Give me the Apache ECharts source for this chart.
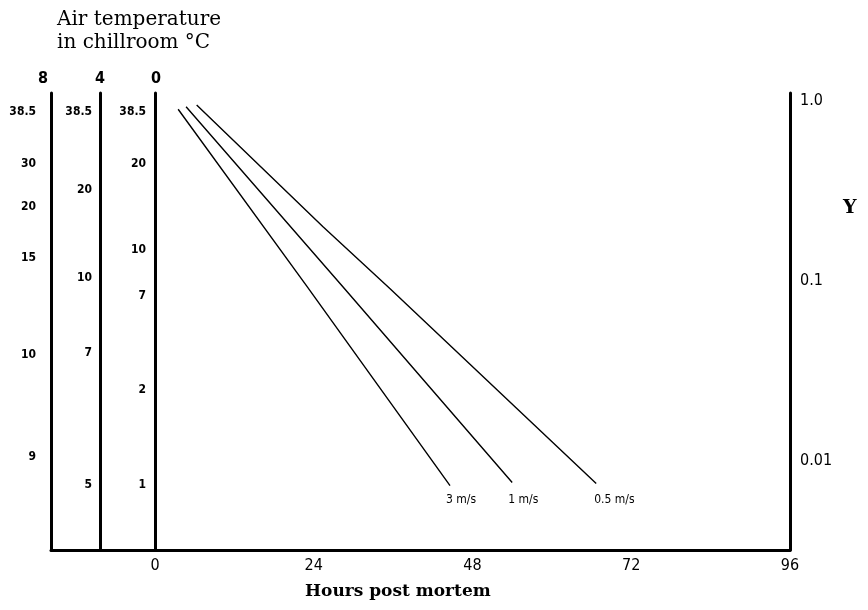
<!DOCTYPE html>
<html>
<head>
<meta charset="utf-8">
<script src="https://cdn.jsdelivr.net/npm/echarts@6/dist/echarts.min.js"></script>
<style>html,body{margin:0;padding:0;background:#fff}#c{width:868px;height:610px}</style>
</head>
<body>
<div id="c"></div>
<script>
// ---- data ----
const lineNames = ['3 m/s', '1 m/s', '0.5 m/s'];
const hours3 = [3.5, 23.0, 44.6];
const yval3 = [0.90, 0.093, 0.0073];
const hours1 = [4.7, 28.4, 54.0];
const yval1 = [0.93, 0.093, 0.0076];
const hours05 = [6.3, 25.4, 35.5, 66.7];
const yval05 = [0.95, 0.20, 0.091, 0.0075];

const hourTicks = [0, 24, 48, 72, 96];
const yTickValues = [1, 0.1, 0.01];
const yTickLabels = ['1.0', '0.1', '0.01'];

const chillTemps = ['8', '4', '0'];
const scale8Labels = ['38.5', '30', '20', '15', '10', '9'];
const scale8Y = [0.87, 0.45, 0.258, 0.134, 0.039, 0.0106];
const scale4Labels = ['38.5', '20', '10', '7', '5'];
const scale4Y = [0.87, 0.32, 0.104, 0.040, 0.0074];
const scale0Labels = ['38.5', '20', '10', '7', '2', '1'];
const scale0Y = [0.87, 0.45, 0.149, 0.083, 0.025, 0.0074];

// ---- helpers ----
const L = v => Math.log10(v);
const yMin = -2.494, yMax = 0.0444;
const condensed = '"DejaVu Sans Condensed", "Liberation Sans Narrow", "DejaVu Sans", sans-serif';
const serif = '"DejaVu Serif", "Liberation Serif", serif';

function lookup(valsY, labels) {
  return function (v) {
    for (let i = 0; i < valsY.length; i++) {
      if (Math.abs(L(valsY[i]) - v) < 1e-9) return labels[i];
    }
    return '';
  };
}

function tempAxis(gridIndex, name, valsY, labels, margin, namePad) {
  return {
    type: 'value', gridIndex: gridIndex, position: 'left', min: yMin, max: yMax,
    name: name, nameLocation: 'end', nameGap: 6,
    nameTextStyle: { fontFamily: condensed, fontSize: 16, fontWeight: 'bold', color: '#000', padding: namePad },
    axisLine: { show: true, lineStyle: { color: '#000', width: 3 } },
    axisTick: { show: false }, splitLine: { show: false },
    axisLabel: {
      customValues: valsY.map(L), margin: margin,
      formatter: lookup(valsY, labels),
      fontFamily: condensed, fontSize: 12, fontWeight: 'bold', color: '#000'
    }
  };
}

function lineSeries(name, hs, ys, off) {
  return {
    type: 'line', name: name, xAxisIndex: 0, yAxisIndex: 0,
    data: hs.map((h, i) => [h, L(ys[i])]),
    showSymbol: false, symbol: 'none', silent: true,
    lineStyle: { color: '#000', width: 1.4 },
    endLabel: {
      show: true, formatter: name, offset: off,
      fontFamily: condensed, fontSize: 12, color: '#000'
    }
  };
}

const chart = echarts.init(document.getElementById('c'), null, { renderer: 'canvas' });
chart.setOption({
  animation: false,
  backgroundColor: '#fff',
  title: [
    { text: 'Air temperature\nin chillroom °C', left: 52, top: 3,
      textStyle: { fontFamily: serif, fontSize: 20, fontWeight: 'normal', color: '#000', lineHeight: 23 } },
    { text: 'Y', left: 838, top: 194,
      textStyle: { fontFamily: serif, fontSize: 19, fontWeight: 'bold', color: '#000' } },
    { text: 'Hours post mortem', left: 300, top: 578,
      textStyle: { fontFamily: serif, fontSize: 17, fontWeight: 'bold', color: '#000' } }
  ],
  grid: [
    { left: 155, right: 78, top: 93, bottom: 60 },
    { left: 100, width: 55, top: 93, bottom: 60 },
    { left: 51, width: 49, top: 93, bottom: 60 }
  ],
  xAxis: [
    { type: 'value', gridIndex: 0, min: 0, max: 96,
      axisLine: { show: true, onZero: false, lineStyle: { color: '#000', width: 3 } },
      axisTick: { show: false }, splitLine: { show: false },
      axisLabel: { customValues: hourTicks, margin: 8, fontFamily: condensed, fontSize: 16, color: '#000' } },
    { type: 'value', gridIndex: 1, min: 0, max: 1,
      axisLine: { show: true, onZero: false, lineStyle: { color: '#000', width: 3 } },
      axisTick: { show: false }, splitLine: { show: false }, axisLabel: { show: false } },
    { type: 'value', gridIndex: 2, min: 0, max: 1,
      axisLine: { show: true, onZero: false, lineStyle: { color: '#000', width: 3 } },
      axisTick: { show: false }, splitLine: { show: false }, axisLabel: { show: false } }
  ],
  yAxis: [
    { type: 'value', gridIndex: 0, position: 'right', min: yMin, max: yMax,
      axisLine: { show: true, onZero: false, lineStyle: { color: '#000', width: 3 } },
      axisTick: { show: false }, splitLine: { show: false },
      axisLabel: { customValues: yTickValues.map(L), margin: 10,
        formatter: lookup(yTickValues, yTickLabels),
        fontFamily: condensed, fontSize: 16, color: '#000' } },
    tempAxis(0, chillTemps[2], scale0Y, scale0Labels, 9, [0, 0, 0, 2]),
    tempAxis(1, chillTemps[1], scale4Y, scale4Labels, 8, [0, 0, 0, 0]),
    tempAxis(2, chillTemps[0], scale8Y, scale8Labels, 15, [0, 16, 0, 0])
  ],
  series: [
    lineSeries(lineNames[0], hours3, yval3, [-12, 14]),
    lineSeries(lineNames[1], hours1, yval1, [-12, 17]),
    lineSeries(lineNames[2], hours05, yval05, [-10, 16])
  ]
});
</script>
</body>
</html>
